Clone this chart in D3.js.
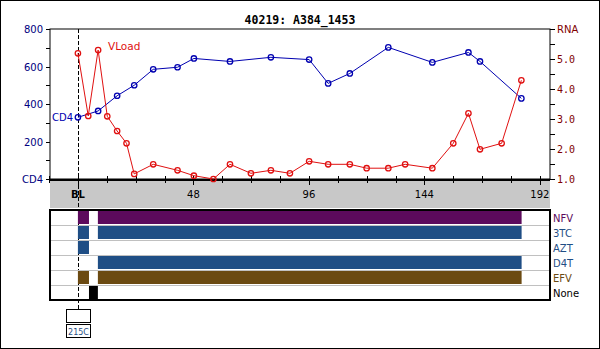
<!DOCTYPE html>
<html><head><meta charset="utf-8">
<script src="https://cdn.jsdelivr.net/npm/d3@7"></script>
<style>body{margin:0;background:#fff}svg{display:block}</style>
</head><body>
<svg id="c" width="600" height="349"></svg>
<script>
const title = "40219: A384_1453";
const cd4Weeks = [0, 8.4, 16.3, 23.4, 31.3, 41.4, 48.2, 63.2, 80.2, 96.1, 104, 113, 129, 147.3, 162.3, 167.1, 184.3];
const cd4Values = [329, 363, 444, 500, 585, 596, 643, 627, 649, 637, 510, 563, 702, 622, 675, 627, 430];
const rnaWeeks = [0, 4.3, 8.4, 12.2, 16.3, 20.2, 23.4, 31.3, 41.4, 48.2, 56.3, 63.2, 71.9, 80.2, 88.1, 96.1, 104, 113, 120, 129, 136, 147.3, 156, 162.3, 167.1, 176.1, 184.3];
const rnaValues = [5.19, 3.1, 5.3, 3.09, 2.6, 2.19, 1.17, 1.49, 1.29, 1.11, 1.0, 1.49, 1.19, 1.29, 1.19, 1.59, 1.49, 1.49, 1.36, 1.36, 1.49, 1.36, 2.19, 3.19, 1.99, 2.19, 4.29];
const xTickLabels = ["BL", "48", "96", "144", "192"];
const xTickValues = [0, 48, 96, 144, 192];
const cd4TickValues = [200, 400, 600, 800];
const rnaTickValues = [1, 2, 3, 4, 5];
const drugs = ["NFV", "3TC", "AZT", "D4T", "EFV", "None"];
const drugPeriods = [
  [[0, 4.6], [8.3, 184.4]],
  [[0, 4.6], [8.3, 184.4]],
  [[0, 4.6]],
  [[8.3, 184.4]],
  [[0, 4.6], [8.3, 184.4]],
  [[4.6, 8.3]]
];
const drugColors = ["#5c0a5c", "#1f4e85", "#1f4e85", "#1f4e85", "#6b4a12", "#000000"];
const mutationLabel = "215C";

const svg = d3.select("#c");
const L = 50, R = 550, T = 29, B = 179;
const x = d3.scaleLinear().domain([-11.6, 196.2]).range([L, R]);
const yC = d3.scaleLinear().domain([0, 800]).range([B, T]);
const yR = d3.scaleLinear().domain([1, 6]).range([B, T]);

svg.append("rect").attr("x", 0.5).attr("y", 0.5).attr("width", 599).attr("height", 348)
  .attr("fill", "#fff").attr("stroke", "#000");

svg.append("text").attr("x", 300).attr("y", 24).attr("text-anchor", "middle")
  .attr("font-family", "DejaVu Sans Mono").attr("font-weight", "bold").attr("font-size", "11.5px")
  .text(title);

svg.append("rect").attr("x", L).attr("y", T).attr("width", R - L).attr("height", B - T)
  .attr("fill", "#fff").attr("stroke", "#000").attr("stroke-width", 1);

svg.append("rect").attr("x", L).attr("y", 181).attr("width", R - L).attr("height", 27).attr("fill", "#c8c8c8");

svg.append("line").attr("x1", L).attr("x2", R).attr("y1", 180).attr("y2", 180).attr("stroke", "#000").attr("stroke-width", 2);
const minor = d3.range(-12, 193, 12);
svg.append("g").selectAll("line").data(minor).join("line")
  .attr("x1", d => Math.round(x(d)) + 0.5).attr("x2", d => Math.round(x(d)) + 0.5)
  .attr("y1", 176).attr("y2", d => xTickValues.includes(d) ? 185 : 183).attr("stroke", "#000");
svg.append("g").selectAll("text").data(xTickValues).join("text")
  .attr("x", d => x(d)).attr("y", 198).attr("text-anchor", "middle")
  .attr("font-family", "DejaVu Sans").attr("font-size", "10px")
  .attr("font-weight", (d, i) => i === 0 ? "bold" : "normal")
  .text((d, i) => xTickLabels[i]);

svg.append("g").selectAll("line").data(d3.range(0, 801, 100)).join("line")
  .attr("x1", L - 4).attr("x2", L).attr("y1", d => Math.round(yC(d)) + 0.5).attr("y2", d => Math.round(yC(d)) + 0.5)
  .attr("stroke", "#000");
svg.append("g").selectAll("text").data(cd4TickValues).join("text")
  .attr("x", 43).attr("y", d => yC(d) + 4).attr("text-anchor", "end")
  .attr("font-family", "DejaVu Sans").attr("font-size", "10px").attr("fill", "#000080")
  .text(d => d);
svg.append("text").attr("x", 43).attr("y", B + 4).attr("text-anchor", "end")
  .attr("font-family", "DejaVu Sans").attr("font-size", "10px").attr("fill", "#000080").text("CD4");

svg.append("g").selectAll("line").data(d3.range(1, 6.01, 0.5)).join("line")
  .attr("x1", R).attr("x2", R + 5).attr("y1", d => Math.round(yR(d)) + 0.5).attr("y2", d => Math.round(yR(d)) + 0.5)
  .attr("stroke", "#000");
svg.append("g").selectAll("text").data(rnaTickValues).join("text")
  .attr("x", 557).attr("y", d => yR(d) + 4)
  .attr("font-family", "DejaVu Sans Mono").attr("font-size", "10px").attr("fill", "#800000")
  .text(d => d.toFixed(1));
svg.append("text").attr("x", 557).attr("y", T + 4)
  .attr("font-family", "DejaVu Sans").attr("font-size", "10px").attr("fill", "#800000").text("RNA");

svg.append("line").attr("x1", Math.round(x(0)) + 0.5).attr("x2", Math.round(x(0)) + 0.5)
  .attr("y1", T).attr("y2", 309).attr("stroke", "#000").attr("stroke-dasharray", "4,2");

const cd4 = cd4Weeks.map((w, i) => [w, cd4Values[i]]);
const rna = rnaWeeks.map((w, i) => [w, rnaValues[i]]);
const blue = "#0000b0", red = "#e01010";
svg.append("path").datum(cd4).attr("fill", "none").attr("stroke", blue).attr("stroke-width", 1)
  .attr("d", d3.line().x(d => x(d[0])).y(d => yC(d[1])));
svg.append("path").datum(rna).attr("fill", "none").attr("stroke", red).attr("stroke-width", 1)
  .attr("d", d3.line().x(d => x(d[0])).y(d => yR(d[1])));
svg.append("g").selectAll("circle").data(cd4).join("circle")
  .attr("cx", d => x(d[0])).attr("cy", d => yC(d[1])).attr("r", 2.7)
  .attr("fill", "none").attr("stroke", blue).attr("stroke-width", 1.3);
svg.append("g").selectAll("circle").data(rna).join("circle")
  .attr("cx", d => x(d[0])).attr("cy", d => yR(d[1])).attr("r", 2.7)
  .attr("fill", "none").attr("stroke", red).attr("stroke-width", 1.3);

svg.append("text").attr("x", 108).attr("y", 50).attr("font-family", "DejaVu Sans").attr("font-size", "10.5px")
  .attr("fill", red).text("VLoad");
svg.append("text").attr("x", 73).attr("y", 121).attr("text-anchor", "end").attr("font-family", "DejaVu Sans")
  .attr("font-size", "10px").attr("fill", blue).text("CD4");

const rowY = d3.scaleBand().domain(drugs).range([210, 300]);
svg.append("g").selectAll("line").data(drugs.slice(1)).join("line")
  .attr("x1", L).attr("x2", R).attr("y1", d => rowY(d) + 0.5).attr("y2", d => rowY(d) + 0.5)
  .attr("stroke", "#c0c0c0");
drugs.forEach((dr, i) => {
  svg.append("g").selectAll("rect").data(drugPeriods[i]).join("rect")
    .attr("x", d => x(d[0])).attr("width", d => x(d[1]) - x(d[0]))
    .attr("y", rowY(dr) + 1).attr("height", rowY.bandwidth() - 2)
    .attr("fill", drugColors[i]);
  svg.append("text").attr("x", 553).attr("y", rowY(dr) + 11.5)
    .attr("font-family", "DejaVu Sans").attr("font-size", "10px").attr("fill", drugColors[i]).text(dr);
});
svg.append("rect").attr("x", L).attr("y", 210).attr("width", R - L).attr("height", 90)
  .attr("fill", "none").attr("stroke", "#000").attr("stroke-width", 2);

svg.append("rect").attr("x", 66.5).attr("y", 309.5).attr("width", 24).attr("height", 13)
  .attr("fill", "#fff").attr("stroke", "#000");
svg.append("rect").attr("x", 66.5).attr("y", 324.5).attr("width", 24).attr("height", 13)
  .attr("fill", "#fff").attr("stroke", "#000");
svg.append("text").attr("x", 78.5).attr("y", 334.5).attr("text-anchor", "middle")
  .attr("font-family", "DejaVu Sans").attr("font-size", "8px").attr("fill", "#1f4e85").text(mutationLabel);
</script>
</body></html>
